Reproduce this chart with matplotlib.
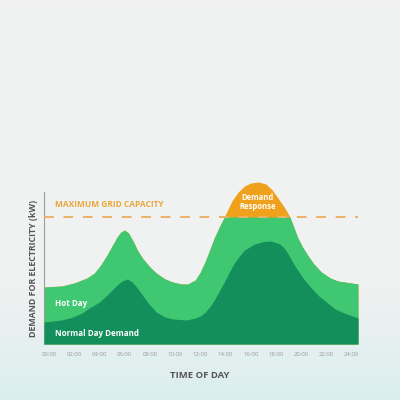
import numpy as np
import matplotlib
matplotlib.use("Agg")
import matplotlib.pyplot as plt
from matplotlib.colors import LinearSegmentedColormap

plt.rcParams["font.family"] = ["Open Sans", "DejaVu Sans"]

# ---- data (hour of day, demand units) ----
hot_h = [-0.4, 1, 2, 3, 3.6, 4.1, 4.6, 5.0, 5.4, 5.7, 6.0, 6.3, 6.7, 7.0, 7.4, 8.0, 8.5, 9.2, 9.8,
         10.5, 11.0, 11.6, 12.0, 12.4, 12.8, 13.1, 13.5, 13.9, 14.5, 15.0, 15.5, 16.0, 16.6,
         17.2, 17.7, 18.1, 18.7, 19.1, 19.4, 19.7, 20.1, 20.5, 21.0, 21.6, 22.3, 22.9, 24.5]
hot_v = [57, 58, 61, 66, 71, 79, 89, 98, 107, 112, 114, 111, 102, 94, 86, 77, 71, 65, 62,
         60, 60, 64, 72, 83, 96, 106, 117, 127, 143, 152, 158, 161, 162,
         160, 154, 147, 136, 127, 117, 107, 97, 89, 80, 72, 66, 63, 60]
norm_h = [-0.4, 1, 1.9, 2.6, 3.2, 4.0, 4.6, 5.0, 5.4, 5.8, 6.2, 6.6, 7.0, 7.4, 7.8, 8.5, 9.2, 9.8,
          10.9, 11.6, 12.0, 12.4, 12.8, 13.1, 13.5, 13.9, 14.3, 14.7, 15.1, 15.5, 16.3, 17.0,
          17.6, 18.3, 18.7, 19.0, 19.5, 20.2, 20.8, 21.4, 22.1, 22.7, 23.4, 24.5]
norm_v = [22, 24, 27, 31, 36, 42, 49, 54, 59, 63, 65, 62, 56, 49, 42, 32, 27, 25,
          24, 26, 28, 32, 38, 44, 53, 62, 72, 81, 88, 94, 100, 102.5,
          103, 100, 95, 89, 78, 65, 56, 48, 41, 35, 31, 26]
capacity = 127
tick_hours = list(range(0, 25, 2))
tick_labels = [f"{h:02d}:00" for h in tick_hours]

LIGHT = "#3fc771"; DARK = "#138f5c"; ORANGE = "#f0a11c"; DASH = "#eab266"

fig = plt.figure(figsize=(4, 4), dpi=100)

# background gradient (grey -> pale teal at the bottom)
bg = fig.add_axes([0, 0, 1, 1], zorder=-10)
cmap = LinearSegmentedColormap.from_list("bg", [(0, "#f1f1f1"), (0.72, "#f0f1f1"), (1, "#dbeeee")])
bg.imshow(np.linspace(0, 1, 200).reshape(-1, 1), aspect="auto", cmap=cmap, extent=[0, 1, 0, 1])
bg.axis("off")

ax = fig.add_axes([0.11, 0.14, 0.785, 0.425])
ax.set_facecolor("none")
hot = np.array(hot_v, dtype=float)
ax.fill_between(hot_h, 0, hot, color=ORANGE, lw=0, zorder=1)
ax.fill_between(hot_h, 0, np.minimum(hot, capacity), color=LIGHT, lw=0, zorder=2)
ax.fill_between(norm_h, 0, norm_v, color=DARK, lw=0, zorder=3)
ax.axhline(capacity, color=DASH, lw=1.4, dashes=(5, 5), zorder=4)

ax.set_xlim(-0.4, 24.5); ax.set_ylim(0, 170)
ax.set_xticks(tick_hours, tick_labels, fontsize=4.3, color="#9a9a9a")
ax.set_yticks([])
ax.tick_params(axis="x", length=0, pad=6)
for s in ["top", "right", "bottom"]:
    ax.spines[s].set_visible(False)
ax.spines["left"].set_bounds(0, 152)
ax.spines["left"].set_color("#9c9c9c"); ax.spines["left"].set_linewidth(0.8)

ax.text(0.45, 140, "MAXIMUM GRID CAPACITY", color="#e9a73c", fontsize=6, fontweight="bold", va="center", zorder=5)
ax.text(0.45, 41, "Hot Day", color="white", fontsize=5.8, fontweight="bold", va="center", zorder=5)
ax.text(0.45, 11, "Normal Day Demand", color="white", fontsize=5.8, fontweight="bold", va="center", zorder=5)
ax.text(16.55, 142, "Demand\nResponse", color="white", fontsize=5.5, fontweight="bold",
        ha="center", va="center", linespacing=1.1, zorder=5)

fig.text(0.083, 0.33, "DEMAND FOR ELECTRICITY (kW)", rotation=90, ha="center", va="center",
         fontsize=6.4, fontweight="bold", color="#555555")
fig.text(0.5, 0.062, "TIME OF DAY", ha="center", va="center", fontsize=6.8, fontweight="bold", color="#555555")

fig.savefig("out.png", dpi=100)
